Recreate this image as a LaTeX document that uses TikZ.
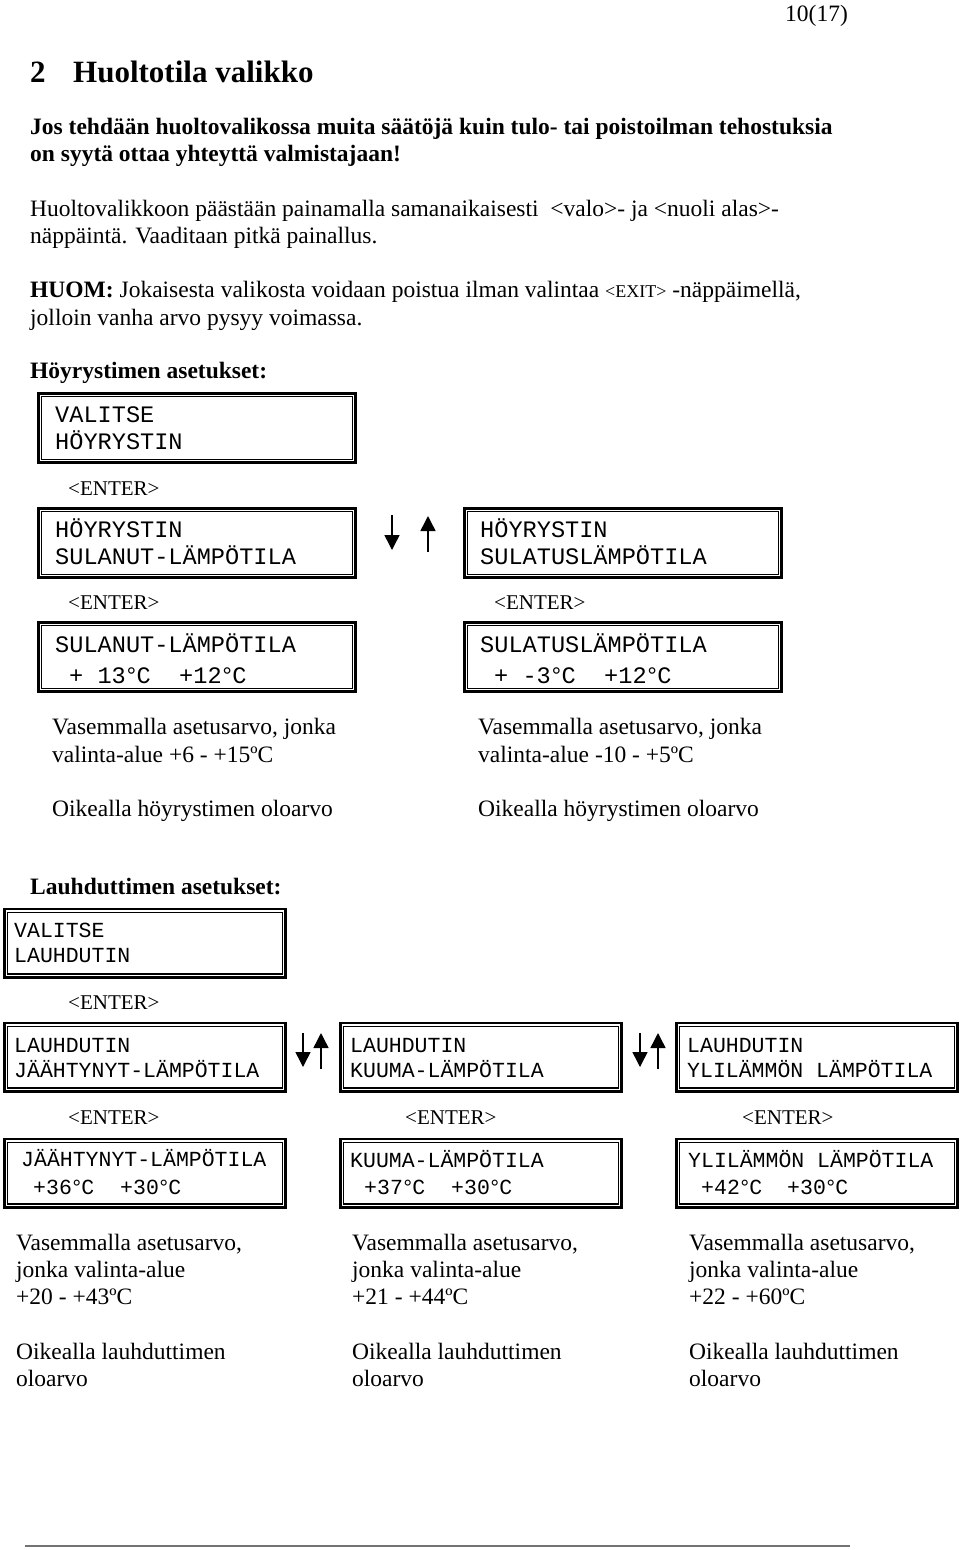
\documentclass[tikz,border=0pt]{standalone}
\usepackage{fontspec}
\setmainfont{Liberation Serif}
\setmonofont{Liberation Mono}
\usetikzlibrary{arrows.meta}
\newcommand\dg{\kern-1.5pt°\kern-2pt}
\begin{document}
\begin{tikzpicture}[x=1pt,y=-1pt,
  txt/.style={anchor=base west, inner sep=0pt, font=\fontsize{23.5}{27}\selectfont},
  btxt/.style={txt, font=\fontsize{23.5}{27}\selectfont\bfseries},
  ent/.style={txt, font=\fontsize{21}{24}\selectfont},
  mono/.style={anchor=base west, inner sep=0pt, font=\ttfamily\fontsize{23.6}{27}\selectfont},
  smono/.style={anchor=base west, inner sep=0pt, font=\ttfamily\fontsize{21.5}{25}\selectfont},
  dbox/.style n args={2}{draw, line width=2.6pt, inner sep=0pt,
    minimum width=#1, minimum height=#2},
  bigbox/.style={dbox={317.4pt}{69.4pt}},
  smallbox/.style={dbox={281.4pt}{68.4pt}},
  innerline/.style={line width=1.2pt},
  arr/.style={-{Triangle[length=15pt,width=15pt]}, line width=1.5pt}
]
\newcommand\innerbox[1]{\draw[innerline] ([shift={(4.6,4.6)}]#1.north west) rectangle ([shift={(-4.6,-4.6)}]#1.south east);}
\useasboundingbox (0,0) rectangle (960,1550);

% header
\node[txt] (pg) at (785,21) {10(17)};
\node[anchor=base west, inner sep=0pt, font=\fontsize{31}{36}\selectfont\bfseries] (tn) at (30,82) {2};
\node[anchor=base west, inner sep=0pt, font=\fontsize{31}{36}\selectfont\bfseries] (tt) at (73,82) {Huoltotila valikko};

% intro text
\node[btxt] (p1) at (30,134) {Jos tehdään huoltovalikossa muita säätöjä kuin tulo- tai poistoilman tehostuksia};
\node[btxt] (p2) at (30,161) {on syytä ottaa yhteyttä valmistajaan!};
\node[txt] (p3) at (30,216) {Huoltovalikkoon päästään painamalla samanaikaisesti \ <valo>- ja <nuoli alas>-};
\node[txt] (p4) at (30,243) {näppäintä. Vaaditaan pitkä painallus.};
\node[txt] (p5) at (30,297) {\textbf{HUOM:} Jokaisesta valikosta voidaan poistua ilman valintaa {\fontsize{18}{20}\selectfont<EXIT>} -näppäimellä,};
\node[txt] (p6) at (30,325) {jolloin vanha arvo pysyy voimassa.};

% Höyrystin section
\node[btxt] (h0) at (30,378) {Höyrystimen asetukset:};

\node[bigbox] (hb1) at (197,428) {}; \innerbox{hb1}
\node[mono] (hb1a) at (55,422) {VALITSE};
\node[mono] (hb1b) at (55,449) {HÖYRYSTIN};

\node[ent] (he1) at (68,495) {<ENTER>};

\node[bigbox] (hb2) at (197,543) {}; \innerbox{hb2}
\node[mono] (hb2a) at (55,537) {HÖYRYSTIN};
\node[mono] (hb2b) at (55,564) {SULANUT-LÄMPÖTILA};

\node[bigbox] (hb3) at (623,543) {}; \innerbox{hb3}
\node[mono] (hb3a) at (480,537) {HÖYRYSTIN};
\node[mono] (hb3b) at (480,564) {SULATUSLÄMPÖTILA};

\coordinate (hd1) at (392,515); \coordinate (hd2) at (392,550);
\coordinate (hu1) at (428,552); \coordinate (hu2) at (428,516);
\draw[arr] (hd1) -- (hd2);
\draw[arr] (hu1) -- (hu2);

\node[ent] (he2) at (68,609) {<ENTER>};
\node[ent] (he3) at (494,609) {<ENTER>};

\node[bigbox] (hb4) at (197,657) {}; \innerbox{hb4}
\node[mono] (hb4a) at (55,652) {SULANUT-LÄMPÖTILA};
\node[mono] (hb4b) at (69,683) {+ 13\dg C};
\node[mono] (hb4c) at (179,683) {+12\dg C};

\node[bigbox] (hb5) at (623,657) {}; \innerbox{hb5}
\node[mono] (hb5a) at (480,652) {SULATUSLÄMPÖTILA};
\node[mono] (hb5b) at (494,683) {+ -3\dg C};
\node[mono] (hb5c) at (604,683) {+12\dg C};

\node[txt] (hl1) at (52,734) {Vasemmalla asetusarvo, jonka};
\node[txt] (hl2) at (52,762) {valinta-alue +6 - +15ºC};
\node[txt] (hl3) at (52,816) {Oikealla höyrystimen oloarvo};
\node[txt] (hr1) at (478,734) {Vasemmalla asetusarvo, jonka};
\node[txt] (hr2) at (478,762) {valinta-alue -10 - +5ºC};
\node[txt] (hr3) at (478,816) {Oikealla höyrystimen oloarvo};

% Lauhdutin section
\node[btxt] (l0) at (30,894) {Lauhduttimen asetukset:};

\node[smallbox] (lb1) at (145,943) {}; \innerbox{lb1}
\node[smono] (lb1a) at (14,937) {VALITSE};
\node[smono] (lb1b) at (14,962) {LAUHDUTIN};

\node[ent] (le1) at (68,1009) {<ENTER>};

\node[smallbox] (lb2) at (145,1057) {}; \innerbox{lb2}
\node[smono] (lb2a) at (14,1052) {LAUHDUTIN};
\node[smono] (lb2b) at (14,1077) {JÄÄHTYNYT-LÄMPÖTILA};

\node[smallbox] (lb3) at (481,1057) {}; \innerbox{lb3}
\node[smono] (lb3a) at (350,1052) {LAUHDUTIN};
\node[smono] (lb3b) at (350,1077) {KUUMA-LÄMPÖTILA};

\node[smallbox] (lb4) at (817,1057) {}; \innerbox{lb4}
\node[smono] (lb4a) at (687,1052) {LAUHDUTIN};
\node[smono] (lb4b) at (687,1077) {YLILÄMMÖN LÄMPÖTILA};

\coordinate (ld1) at (303,1033); \coordinate (ld2) at (303,1067);
\coordinate (lu1) at (321,1069); \coordinate (lu2) at (321,1033);
\draw[arr] (ld1) -- (ld2);
\draw[arr] (lu1) -- (lu2);
\coordinate (md1) at (640,1033); \coordinate (md2) at (640,1067);
\coordinate (mu1) at (658,1069); \coordinate (mu2) at (658,1033);
\draw[arr] (md1) -- (md2);
\draw[arr] (mu1) -- (mu2);

\node[ent] (le2) at (68,1124) {<ENTER>};
\node[ent] (le3) at (405,1124) {<ENTER>};
\node[ent] (le4) at (742,1124) {<ENTER>};

\node[smallbox] (lb5) at (145,1173) {}; \innerbox{lb5}
\node[smono] (lb5a) at (21,1166) {JÄÄHTYNYT-LÄMPÖTILA};
\node[smono] (lb5b) at (33,1194) {+36\dg C};
\node[smono] (lb5c) at (120,1194) {+30\dg C};

\node[smallbox] (lb6) at (481,1173) {}; \innerbox{lb6}
\node[smono] (lb6a) at (350,1167) {KUUMA-LÄMPÖTILA};
\node[smono] (lb6b) at (364,1194) {+37\dg C};
\node[smono] (lb6c) at (451,1194) {+30\dg C};

\node[smallbox] (lb7) at (817,1173) {}; \innerbox{lb7}
\node[smono] (lb7a) at (688,1167) {YLILÄMMÖN LÄMPÖTILA};
\node[smono] (lb7b) at (701,1194) {+42\dg C};
\node[smono] (lb7c) at (787,1194) {+30\dg C};

\node[txt] (d1a) at (16,1250) {Vasemmalla asetusarvo,};
\node[txt] (d1b) at (16,1277) {jonka valinta-alue};
\node[txt] (d1c) at (16,1304) {+20 - +43ºC};
\node[txt] (d1d) at (16,1359) {Oikealla lauhduttimen};
\node[txt] (d1e) at (16,1386) {oloarvo};

\node[txt] (d2a) at (352,1250) {Vasemmalla asetusarvo,};
\node[txt] (d2b) at (352,1277) {jonka valinta-alue};
\node[txt] (d2c) at (352,1304) {+21 - +44ºC};
\node[txt] (d2d) at (352,1359) {Oikealla lauhduttimen};
\node[txt] (d2e) at (352,1386) {oloarvo};

\node[txt] (d3a) at (689,1250) {Vasemmalla asetusarvo,};
\node[txt] (d3b) at (689,1277) {jonka valinta-alue};
\node[txt] (d3c) at (689,1304) {+22 - +60ºC};
\node[txt] (d3d) at (689,1359) {Oikealla lauhduttimen};
\node[txt] (d3e) at (689,1386) {oloarvo};

% footer line
\coordinate (f1) at (25,1546); \coordinate (f2) at (850,1546);
\draw[line width=2pt, black!55] (f1) -- (f2);
\end{tikzpicture}
\end{document}
